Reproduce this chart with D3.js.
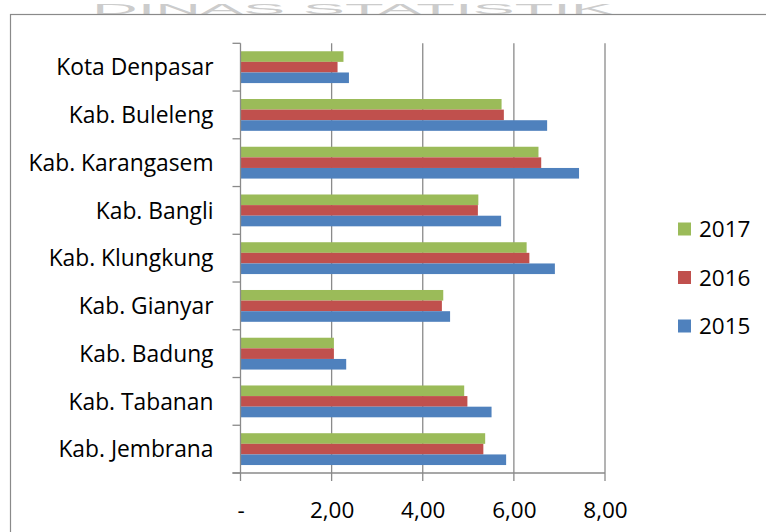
<!DOCTYPE html>
<html>
<head>
<meta charset="utf-8">
<script src="https://cdn.jsdelivr.net/npm/d3@7"></script>
<style>
  html, body { margin: 0; padding: 0; background: #ffffff; }
  svg { display: block; }
  text { font-family: "Open Sans", "Noto Sans", sans-serif; fill: #000; }
</style>
</head>
<body>
<svg id="chart" width="766" height="532"></svg>
<script>
// Regencies / city of Bali, top to bottom
const categories = [
  "Kota Denpasar", "Kab. Buleleng", "Kab. Karangasem", "Kab. Bangli",
  "Kab. Klungkung", "Kab. Gianyar", "Kab. Badung", "Kab. Tabanan", "Kab. Jembrana"
];
// Series, in the order drawn inside each group (top to bottom) and in the legend
const years = ["2017", "2016", "2015"];
const values2017 = [2.26, 5.73, 6.54, 5.22, 6.28, 4.45, 2.05, 4.91, 5.37];
const values2016 = [2.13, 5.78, 6.60, 5.21, 6.34, 4.42, 2.05, 4.98, 5.33];
const values2015 = [2.38, 6.73, 7.43, 5.72, 6.90, 4.60, 2.32, 5.51, 5.83];
const seriesColors = ["#9BBB59", "#C0504D", "#4F81BD"];
// Value axis
const tickValues = [0, 2, 4, 6, 8];
const tickLabels = ["-", "2,00", "4,00", "6,00", "8,00"];

const seriesValues = { "2017": values2017, "2016": values2016, "2015": values2015 };
const rows = categories.map((c, i) => ({
  name: c,
  values: years.map(y => ({ year: y, value: seriesValues[y][i] }))
}));

const svg = d3.select("#chart");
const gridColor = "#8a8a8a";

// Faint page header lettering above the chart frame
svg.append("text")
  .attr("x", 92).attr("y", 13.5)
  .attr("textLength", 521).attr("lengthAdjust", "spacingAndGlyphs")
  .style("font-family", "'Liberation Sans', sans-serif")
  .style("font-size", "14px")
  .style("fill", "#cccccc")
  .text("DINAS STATISTIK");

// Outer frame of the chart object (runs past the right and bottom edges)
svg.append("rect")
  .attr("x", 10.5).attr("y", 14.5)
  .attr("width", 800).attr("height", 560)
  .attr("fill", "none").attr("stroke", gridColor).attr("stroke-width", 1.2);

const plot = { left: 240.5, right: 605, top: 43.3, bottom: 473 };

const x = d3.scaleLinear().domain([0, 8]).range([plot.left, plot.right]);
const y = d3.scaleBand().domain(categories).range([plot.top, plot.bottom]).paddingInner(0).paddingOuter(0);
const ySub = d3.scaleBand().domain(years).range([0, y.bandwidth()]).paddingInner(0).paddingOuter(0.75);
const color = d3.scaleOrdinal().domain(years).range(seriesColors);

// Vertical gridlines (with the short tick below the axis)
svg.append("g").selectAll("line")
  .data(tickValues.slice(1))
  .join("line")
  .attr("x1", d => x(d)).attr("x2", d => x(d))
  .attr("y1", plot.top).attr("y2", plot.bottom + 8)
  .attr("stroke", gridColor).attr("stroke-width", 1.3);

// Bars
const groups = svg.append("g").selectAll("g")
  .data(rows)
  .join("g")
  .attr("transform", d => `translate(0,${y(d.name)})`);

groups.selectAll("rect")
  .data(d => d.values)
  .join("rect")
  .attr("x", x(0))
  .attr("y", d => ySub(d.year))
  .attr("width", d => x(d.value) - x(0))
  .attr("height", ySub.bandwidth())
  .attr("fill", d => color(d.year));

// Category axis: line, boundary ticks and labels
const yAxisG = svg.append("g").attr("transform", `translate(${plot.left},0)`);
yAxisG.append("line")
  .attr("x1", 0).attr("x2", 0).attr("y1", plot.top).attr("y2", plot.bottom + 8)
  .attr("stroke", gridColor).attr("stroke-width", 1.3);
const boundaries = categories.map(c => y(c)).concat([plot.bottom]);
yAxisG.selectAll("line.tick")
  .data(boundaries)
  .join("line")
  .attr("class", "tick")
  .attr("x1", -8).attr("x2", 0)
  .attr("y1", d => d).attr("y2", d => d)
  .attr("stroke", gridColor).attr("stroke-width", 1.3);

const yAxis = d3.axisLeft(y).tickSize(0).tickPadding(27);
const yLabels = svg.append("g").attr("transform", `translate(${plot.left},0)`).call(yAxis);
yLabels.select(".domain").remove();
yLabels.selectAll("text")
  .style("font-size", "22.8px")
  .attr("dy", "0.36em");

// Value axis
svg.append("line")
  .attr("x1", plot.left - 8).attr("x2", plot.right)
  .attr("y1", plot.bottom).attr("y2", plot.bottom)
  .attr("stroke", gridColor).attr("stroke-width", 1.3);

const xAxis = d3.axisBottom(x)
  .tickValues(tickValues)
  .tickFormat((d, i) => tickLabels[i])
  .tickSize(0)
  .tickPadding(0);
const xLabels = svg.append("g").attr("transform", `translate(0,${plot.bottom})`).call(xAxis);
xLabels.select(".domain").remove();
xLabels.selectAll("text")
  .attr("y", 45)
  .attr("dy", 0)
  .style("font-size", "22.5px");

// Legend
const legend = svg.append("g").attr("transform", "translate(678,229)");
const items = legend.selectAll("g")
  .data(years)
  .join("g")
  .attr("transform", (d, i) => `translate(0,${i * 48.5})`);
items.append("rect")
  .attr("x", 0).attr("y", -6.5)
  .attr("width", 13).attr("height", 13)
  .attr("fill", d => color(d));
items.append("text")
  .attr("x", 21).attr("y", 0).attr("dy", "0.36em")
  .style("font-size", "22.5px")
  .text(d => d);
</script>
</body>
</html>
